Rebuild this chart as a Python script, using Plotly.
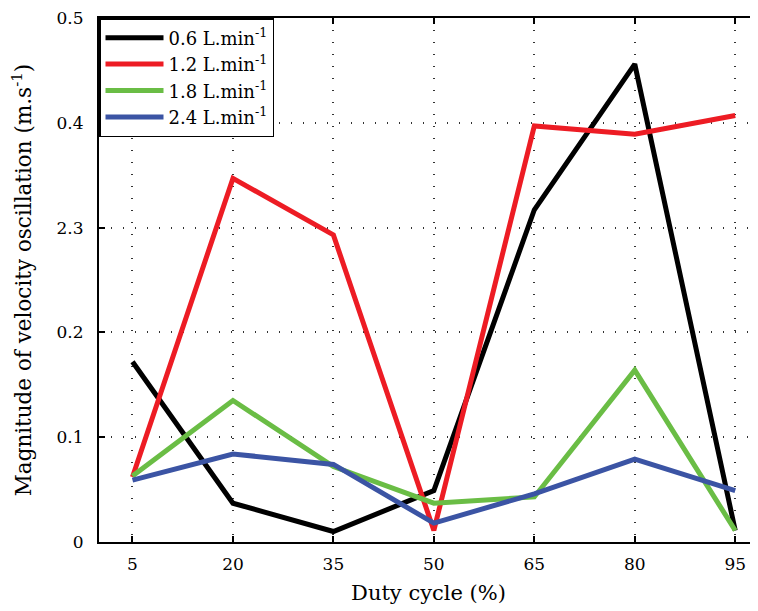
import plotly.graph_objects as go

duty_cycle = [5, 20, 35, 50, 65, 80, 95]
flow_0_6 = [0.172, 0.037, 0.010, 0.049, 0.317, 0.456, 0.011]
flow_1_2 = [0.062, 0.347, 0.293, 0.011, 0.397, 0.389, 0.407]
flow_1_8 = [0.063, 0.135, 0.072, 0.037, 0.043, 0.164, 0.011]
flow_2_4 = [0.059, 0.084, 0.074, 0.018, 0.046, 0.079, 0.049]

series_names = ["0.6 L.min<sup>-1</sup>", "1.2 L.min<sup>-1</sup>",
                "1.8 L.min<sup>-1</sup>", "2.4 L.min<sup>-1</sup>"]
series_values = [flow_0_6, flow_1_2, flow_1_8, flow_2_4]
colors = ["#000000", "#ED1C24", "#6ABD45", "#3B54A4"]

y_tickvals = [0, 0.1, 0.2, 0.3, 0.4, 0.5]
y_ticktext = ["0", "0.1", "0.2", "2.3", "0.4", "0.5"]

font_family = "DejaVu Serif"

fig = go.Figure()
for name, vals, col in zip(series_names, series_values, colors):
    fig.add_trace(go.Scatter(x=duty_cycle, y=vals, mode="lines", name=name,
                             line=dict(color=col, width=5)))

grid_dash = "1px,11px"

fig.update_layout(
    width=750, height=603,
    margin=dict(l=91, r=0, t=10, b=69),
    plot_bgcolor="white", paper_bgcolor="white",
    font=dict(family=font_family, color="black", size=17),
    showlegend=True,
    legend=dict(x=0, y=1, xanchor="left", yanchor="top",
                bgcolor="white", bordercolor="black", borderwidth=1.5,
                font=dict(size=18, family=font_family),
                tracegroupgap=0, itemwidth=58),
)
fig.update_xaxes(
    range=[0, 98.4], tickvals=duty_cycle, automargin=False,
    ticks="inside", ticklen=6, tickwidth=1.5, tickcolor="black",
    showline=True, linewidth=2, linecolor="black", mirror="ticks",
    showgrid=True, gridcolor="#333333", gridwidth=1.5, griddash=grid_dash,
    zeroline=False, ticklabeloverflow="allow", ticklabelstandoff=6,
    title=dict(text="Duty cycle (%)", font=dict(size=21, family=font_family), standoff=12),
    tickfont=dict(size=17, family=font_family),
)
fig.update_yaxes(
    range=[0, 0.5], tickvals=y_tickvals, ticktext=y_ticktext, automargin=False,
    ticks="inside", ticklen=6, tickwidth=1.5, tickcolor="black",
    showline=True, linewidth=2, linecolor="black", mirror=False,
    showgrid=True, gridcolor="#333333", gridwidth=1.5, griddash=grid_dash,
    zeroline=False, ticklabeloverflow="allow", ticklabelstandoff=10,
    title=dict(text="Magnitude of velocity oscillation (m.s<sup>-1</sup>)",
               font=dict(size=21.5, family=font_family), standoff=30),
    tickfont=dict(size=17, family=font_family),
)

fig.write_html("out.html")
